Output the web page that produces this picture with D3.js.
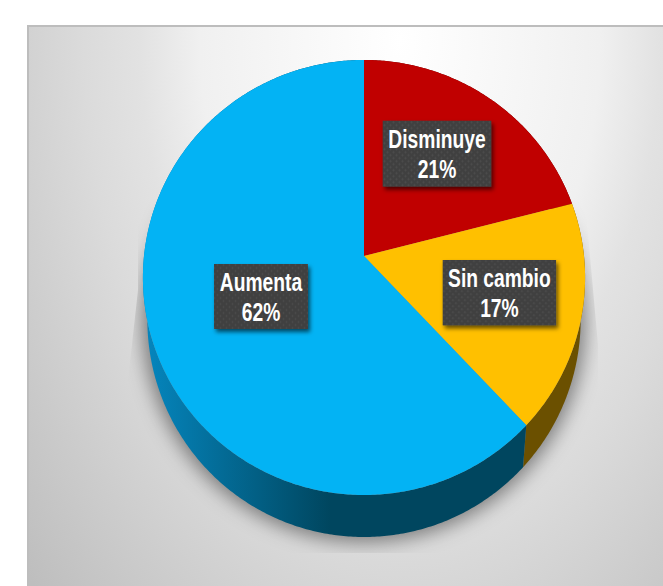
<!DOCTYPE html>
<html>
<head>
<meta charset="utf-8">
<script src="https://cdn.jsdelivr.net/npm/d3@7"></script>
<style>
    html, body { margin: 0; padding: 0; background: #fff; }
    svg { display: block; }
    text { font-family: "Liberation Sans", Arial, sans-serif; fill: #fff; font-weight: bold; text-anchor: middle; }
</style>
</head>
<body>
<div id="chart"></div>
<script>
// Values, in clockwise order from 12 o'clock
const categories = ["Disminuye", "Sin cambio", "Aumenta"];
const percents = [21, 17, 62];

const topColors = ["#C00000", "#FFC000", "#03B3F4"];
const sideColors = ["#5c0000", "#6b5000", "url(#blue-side)"];
// Label box centres, the labels in the picture are placed by hand
const labelBoxes = [
    {cx: 437, cy: 153.7, w: 108.6, h: 66},
    {cx: 499.4, cy: 292.7, w: 113.4, h: 65.4},
    {cx: 261, cy: 296.5, w: 94, h: 65}
];

const width = 663, height = 586;

let svg = d3.select("#chart").append("svg")
    .attr("width", width)
    .attr("height", height);

let defs = svg.append("defs");

// Panel background, bright spot at the top fading out to grey
let panelGrad = defs.append("radialGradient").attr("id", "panel")
    .attr("gradientUnits", "userSpaceOnUse")
    .attr("cx", 0).attr("cy", 0).attr("r", 500)
    .attr("gradientTransform", "translate(400,40) scale(1,1.6)");
panelGrad.append("stop").attr("offset", "0%").attr("stop-color", "#ffffff");
panelGrad.append("stop").attr("offset", "40%").attr("stop-color", "#f0f0f0");
panelGrad.append("stop").attr("offset", "52%").attr("stop-color", "#e2e2e2");
panelGrad.append("stop").attr("offset", "63%").attr("stop-color", "#dbdbdb");
panelGrad.append("stop").attr("offset", "82%").attr("stop-color", "#cccccc");
panelGrad.append("stop").attr("offset", "100%").attr("stop-color", "#bebebe");

// Blue side of the pie gets darker towards the front
let blueSide = defs.append("linearGradient").attr("id", "blue-side")
    .attr("gradientUnits", "userSpaceOnUse")
    .attr("x1", 150).attr("y1", 0).attr("x2", 330).attr("y2", 0);
blueSide.append("stop").attr("offset", "0%").attr("stop-color", "#0584bb");
blueSide.append("stop").attr("offset", "100%").attr("stop-color", "#00465f");

defs.append("filter").attr("id", "soft").attr("x", "-20%").attr("y", "-20%").attr("width", "140%").attr("height", "140%")
    .append("feGaussianBlur").attr("stdDeviation", 10);

let boxShadow = defs.append("filter").attr("id", "box-shadow").attr("x", "-20%").attr("y", "-20%").attr("width", "140%").attr("height", "150%");
boxShadow.append("feDropShadow").attr("dx", 2).attr("dy", 3).attr("stdDeviation", 2).attr("flood-color", "#000").attr("flood-opacity", 0.6);

// The shadow is cut off by slanted sides and a flat bottom
const shadowClip = [[585, 200], [598, 345], [598, 553], [128, 553], [128, 380], [138, 290], [138, 200]];
defs.append("clipPath").attr("id", "shadow-clip")
    .append("path").attr("d", d3.line()(shadowClip) + "Z");

// Dotted texture of the label boxes
let dots = defs.append("pattern").attr("id", "dots")
    .attr("patternUnits", "userSpaceOnUse").attr("width", 6).attr("height", 6);
dots.append("rect").attr("width", 6).attr("height", 6).attr("fill", "#404040");
dots.append("circle").attr("cx", 1.5).attr("cy", 1.5).attr("r", 0.9).attr("fill", "#4e4e4e");
dots.append("circle").attr("cx", 4.5).attr("cy", 4.5).attr("r", 0.9).attr("fill", "#4e4e4e");

svg.append("rect").attr("x", 28).attr("y", 26).attr("width", width).attr("height", height)
    .attr("fill", "url(#panel)").attr("stroke", "#bdbdbd").attr("stroke-width", 2);

// The pie is seen in perspective, so the apex sits above the centre of the outline
const apex = {x: 364, y: 256};
const scaleX = 220, scaleY = 215.4, tilt = -0.0988;
const depth = 42, bottomShrink = 0.98;

function project(angle) {
    let ux = Math.sin(angle), uy = -Math.cos(angle);
    let w = 1 + tilt * uy;
    return [apex.x + scaleX * ux / w, apex.y + scaleY * uy / w];
}

function lower(p) {
    return [apex.x + (p[0] - apex.x) * bottomShrink, p[1] + depth];
}

function rim(start, end) {
    let n = Math.max(2, Math.ceil((end - start) / 0.01));
    return d3.range(n + 1).map(i => project(start + (end - start) * i / n));
}

let line = d3.line().curve(d3.curveLinear);

let pie = d3.pie().sort(null).value(d => d)(percents);
let wholeRim = rim(0, 2 * Math.PI);

// Soft shadow behind the pie
svg.append("g").attr("clip-path", "url(#shadow-clip)")
    .append("path")
    .attr("d", line(wholeRim.map(lower)) + "Z")
    .attr("fill", "#000")
    .attr("fill-opacity", 0.42)
    .attr("stroke", "#000")
    .attr("stroke-opacity", 0.42)
    .attr("stroke-width", 8)
    .attr("filter", "url(#soft)");

// Side walls first, the top face covers whatever should be hidden
svg.append("g").selectAll("path")
    .data(pie)
    .join("path")
    .attr("d", d => {
        let top = rim(d.startAngle, d.endAngle);
        return line(top.concat(top.map(lower).reverse())) + "Z";
    })
    .attr("fill", (d, i) => sideColors[i]);

// Top face
svg.append("g").selectAll("path")
    .data(pie)
    .join("path")
    .attr("d", d => line([[apex.x, apex.y]].concat(rim(d.startAngle, d.endAngle))) + "Z")
    .attr("fill", (d, i) => topColors[i]);

// Labels
let labels = svg.append("g").selectAll("g")
    .data(categories)
    .join("g")
    .attr("transform", (d, i) => `translate(${labelBoxes[i].cx},${labelBoxes[i].cy})`);

labels.append("rect")
    .attr("x", (d, i) => -labelBoxes[i].w / 2)
    .attr("y", (d, i) => -labelBoxes[i].h / 2)
    .attr("width", (d, i) => labelBoxes[i].w)
    .attr("height", (d, i) => labelBoxes[i].h)
    .attr("fill", "url(#dots)")
    .attr("filter", "url(#box-shadow)");

// The label font in the picture is a condensed one, so squeeze it horizontally
labels.append("text")
    .attr("transform", "translate(0,-5.4) scale(0.77,1)")
    .attr("font-size", 25)
    .text(d => d);

labels.append("text")
    .attr("transform", "translate(0,24.6) scale(0.77,1)")
    .attr("font-size", 25)
    .text((d, i) => percents[i] + "%");
</script>
</body>
</html>
